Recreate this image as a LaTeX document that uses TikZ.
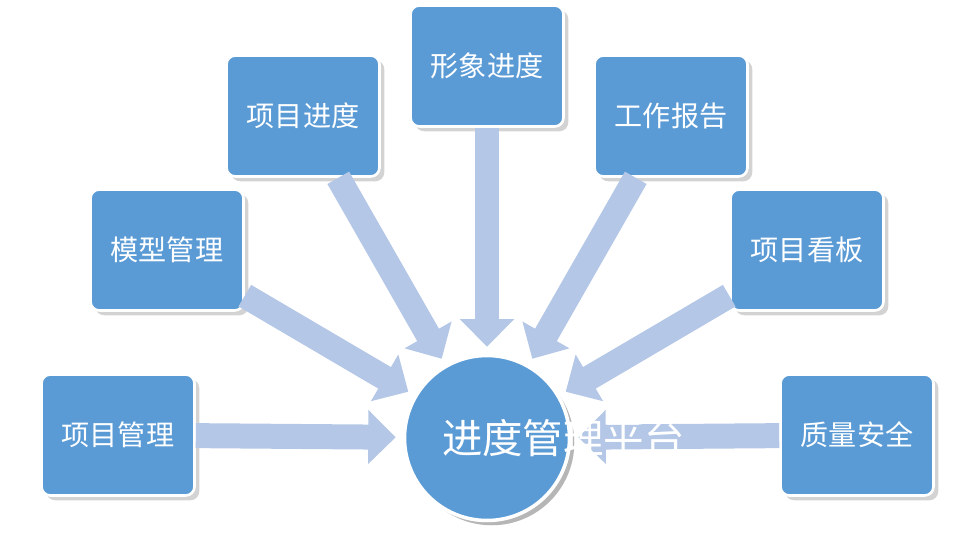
\documentclass[tikz,border=0pt]{standalone}
\usepackage{fontspec}
\setmainfont{Noto Sans CJK SC}
\usetikzlibrary{arrows.meta,shadows}
\definecolor{boxblue}{HTML}{5B9BD5}
\definecolor{arrowblue}{HTML}{B4C7E7}
\tikzset{
  topic/.style={draw=white, line width=1.5pt, fill=boxblue, rounded corners=5pt,
    minimum width=3.06cm, minimum height=2.42cm, text width=2.7cm, align=center,
    text=white, font=\fontsize{16}{20}\selectfont, drop shadow={opacity=0.35}},
  hubnode/.style={circle, draw=white, line width=2pt, fill=boxblue, minimum size=3.3cm,
    text width=1.8cm, align=center, text=white, font=\fontsize{23}{28}\selectfont,
    drop shadow={opacity=0.35}},
  bigarrow/.style={arrowblue, line width=0.5cm, shorten >=4pt,
    -{Triangle[length=0.55cm,width=1.05cm]}}
}
\begin{document}
\begin{tikzpicture}[x=0.02cm, y=-0.02cm]
		\useasboundingbox (0,0) rectangle (975,538);
		\node[hubnode] (hub) at (487,438) {进度管理平台};
		\node[topic] (xmgl) at (118,435) {项目管理};
		\node[topic] (mxgl) at (167,250) {模型管理};
		\node[topic] (xmjd) at (303,116) {项目进度};
		\node[topic] (xxjd) at (487,66) {形象进度};
		\node[topic] (gzbg) at (671,116) {工作报告};
		\node[topic] (xmkb) at (807,250) {项目看板};
		\node[topic] (zlaq) at (857,435) {质量安全};
		\foreach \src in {xmgl,mxgl,xmjd,xxjd,gzbg,xmkb,zlaq}
			\draw[bigarrow] (\src) -- (hub);
		% keep the nodes above the arrows
		\node[hubnode] at (hub) {进度管理平台};
\end{tikzpicture}
\end{document}
